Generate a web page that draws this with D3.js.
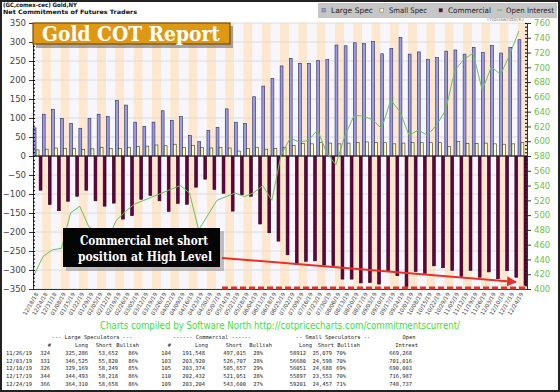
<!DOCTYPE html>
<html>
<head>
<meta charset="utf-8">
<script src="https://cdn.jsdelivr.net/npm/d3@7"></script>
<style>
  body { margin: 0; background: #fff; }
  svg { display: block; }
</style>
</head>
<body>
<svg id="chart" width="560" height="392"></svg>
<script>
const dates = [
  "12/18/18", "12/24/18", "12/31/18", "01/08/19", "01/15/19", "01/22/19", "01/29/19",
  "02/05/19", "02/12/19", "02/19/19", "02/26/19", "03/05/19", "03/12/19", "03/19/19",
  "03/26/19", "04/02/19", "04/09/19", "04/16/19", "04/23/19", "04/30/19", "05/07/19",
  "05/14/19", "05/21/19", "05/28/19", "06/04/19", "06/11/19", "06/18/19", "06/25/19",
  "07/02/19", "07/09/19", "07/16/19", "07/23/19", "07/30/19", "08/06/19", "08/13/19",
  "08/20/19", "08/27/19", "09/03/19", "09/10/19", "09/17/19", "09/24/19", "10/01/19",
  "10/08/19", "10/15/19", "10/22/19", "10/29/19", "11/05/19", "11/12/19", "11/19/19",
  "11/26/19", "12/03/19", "12/10/19", "12/17/19", "12/24/19"
];

// net positions, thousands of contracts
const largeSpec = [
  74, 110, 123, 99, 86, 73, 99, 110, 104, 146, 134, 89, 78, 89,
  119, 94, 104, 54, 38, 67, 75, 124, 89, 86, 156, 184, 204, 237,
  257, 244, 244, 251, 254, 292, 290, 298, 296, 301, 269, 283, 312, 268,
  274, 254, 259, 276, 279, 268, 286, 272, 291, 271, 286, 306
];
const smallSpec = [
  16, 18, 21, 20, 20, 17, 19, 22, 20, 20, 23, 25, 26, 29,
  27, 31, 23, 28, 23, 21, 23, 21, 13, 20, 23, 18, 20, 23,
  28, 33, 32, 36, 34, 32, 34, 36, 37, 36, 35, 32, 34, 36,
  35, 35, 35, 25, 38, 33, 33, 34, 32, 31, 32, 35
];
const commercial = [
  -90, -128, -144, -119, -106, -90, -118, -132, -124, -166, -157, -114, -104, -118,
  -146, -125, -127, -82, -61, -88, -98, -145, -102, -106, -179, -202, -224, -260,
  -285, -277, -276, -287, -288, -324, -324, -334, -333, -337, -304, -315, -346, -304,
  -309, -289, -294, -301, -317, -301, -319, -305, -323, -302, -319, -340
];
// open interest, thousands
const openInterest = [
  419, 444, 453, 455, 503, 512, 484, 477, 466, 493, 505, 515, 520, 525,
  530, 535, 540, 530, 480, 500, 520, 525, 530, 525, 530, 540, 520, 581,
  604, 599, 601, 615, 584, 568, 608, 635, 634, 629, 617, 656, 640, 608,
  615, 608, 622, 642, 696, 711, 719, 669, 701, 690, 717, 749
];

const leftTicks = d3.range(-350, 351, 50);
const rightTicks = d3.range(400, 761, 20);

const legendItems = ["Large Spec", "Small Spec", "Commercial", "Open Interest"];

const tableHead1 = [
  ["--- Large Speculators ---", 92], ["------ Commercial ------", 212],
  ["-- Small Speculators --", 333], ["Open", 409]
];
const tableHead2 = [
  ["#", 51], ["Long", 88], ["Short", 112], ["Bullish", 139], ["#", 171],
  ["Long", 208], ["Short", 242], ["Bullish", 272], ["Long", 312],
  ["Short", 334], ["Bullish", 360], ["Intrest", 418]
];
const tableRows = [
  ["11/26/19", "324", "325,286", "53,652", "86%", "104", "191,548", "497,015", "28%", "58912", "25,079", "70%", "669,268"],
  ["12/03/19", "331", "346,525", "55,820", "86%", "103", "203,920", "526,707", "28%", "56680", "24,598", "70%", "701,016"],
  ["12/10/19", "326", "329,169", "58,249", "85%", "105", "203,374", "505,657", "29%", "56051", "24,688", "69%", "690,003"],
  ["12/17/19", "344", "344,493", "58,218", "86%", "110", "202,432", "521,051", "28%", "55897", "23,553", "70%", "716,987"],
  ["12/24/19", "366", "364,310", "58,658", "86%", "109", "203,204", "543,600", "27%", "59201", "24,457", "71%", "748,737"]
];
const tableCols = [32, 50, 88, 118, 138, 171, 205, 246, 263, 306, 332, 346, 412];

const colors = {
  large: "#9b9be0", small: "#ffffb8", comm: "#66003f", oi: "#6cbf5c",
  stripeA: "#f6f6fc", stripeB: "#fde8cf"
};

const plot = { left: 33, right: 527, top: 23, bottom: 289 };

const svg = d3.select("#chart");

const x = d3.scaleBand().domain(dates).range([plot.left, plot.right]);
const sub = d3.scaleBand().domain(["large", "small", "comm"]).range([0, x.bandwidth()]).padding(0.05);
const yL = d3.scaleLinear().domain([-350, 350]).range([plot.bottom, plot.top]);
const yR = d3.scaleLinear().domain([400, 760]).range([plot.bottom, plot.top]);

// frame
svg.append("rect").attr("x", 1).attr("y", 1).attr("width", 558).attr("height", 390)
  .attr("fill", "#fff").attr("stroke", "#222").attr("stroke-width", 2);

// stripes
svg.append("g").selectAll("rect").data(dates).join("rect")
  .attr("x", d => x(d)).attr("y", plot.top)
  .attr("width", x.bandwidth()).attr("height", plot.bottom - plot.top)
  .attr("fill", (d, i) => i % 2 ? colors.stripeB : colors.stripeA);

// gridlines
svg.append("g").selectAll("line").data(leftTicks).join("line")
  .attr("x1", plot.left).attr("x2", plot.right)
  .attr("y1", d => yL(d)).attr("y2", d => yL(d))
  .attr("stroke", "#d8d8d8").attr("stroke-width", 0.8);

// bars
const bars = svg.append("g");
bars.selectAll(".large").data(largeSpec).join("rect").attr("class", "large")
  .attr("x", (d, i) => x(dates[i]) + sub("large")).attr("width", sub.bandwidth())
  .attr("y", d => yL(d)).attr("height", d => yL(0) - yL(d))
  .attr("fill", colors.large).attr("stroke", "#2a2a5a").attr("stroke-width", 0.6);
bars.selectAll(".small").data(smallSpec).join("rect").attr("class", "small")
  .attr("x", (d, i) => x(dates[i]) + sub("small")).attr("width", sub.bandwidth())
  .attr("y", d => yL(d)).attr("height", d => yL(0) - yL(d))
  .attr("fill", colors.small).attr("stroke", "#333").attr("stroke-width", 0.6);
bars.selectAll(".comm").data(commercial).join("rect").attr("class", "comm")
  .attr("x", (d, i) => x(dates[i]) + sub("comm")).attr("width", sub.bandwidth())
  .attr("y", yL(0)).attr("height", d => yL(d) - yL(0))
  .attr("fill", colors.comm).attr("stroke", "#2a0018").attr("stroke-width", 0.6);

// zero line
svg.append("line").attr("x1", plot.left).attr("x2", plot.right)
  .attr("y1", yL(0)).attr("y2", yL(0)).attr("stroke", "#222").attr("stroke-width", 1);

// open interest (points sit on the left edge of each week)
const line = d3.line().x((d, i) => x(dates[i]) + 1).y(d => yR(d));
svg.append("path").datum(openInterest).attr("d", line)
  .attr("fill", "none").attr("stroke", colors.oi).attr("stroke-width", 1);

// left axis
const leftAxis = svg.append("g").attr("transform", `translate(${plot.left},0)`)
  .call(d3.axisLeft(yL).tickValues(leftTicks).tickSize(4).tickPadding(3));
svg.append("g").attr("transform", `translate(${plot.left},0)`)
  .call(d3.axisRight(yL).tickValues(d3.range(-350, 351, 10)).tickSize(2).tickFormat(""))
  .call(g => g.select(".domain").remove());
leftAxis.selectAll("text").attr("fill", "#444").style("font", "8.5px 'DejaVu Sans'");
leftAxis.selectAll("line, path").attr("stroke", "#333");

// right axis
const rightAxis = svg.append("g").attr("transform", `translate(${plot.right},0)`)
  .call(d3.axisRight(yR).tickValues(rightTicks).tickSize(4).tickPadding(3));
svg.append("g").attr("transform", `translate(${plot.right},0)`)
  .call(d3.axisLeft(yR).tickValues(d3.range(400, 761, 5)).tickSize(2).tickFormat(""))
  .call(g => g.select(".domain").remove());
rightAxis.selectAll("text").attr("fill", "#6cbf4c").style("font", "8.5px 'DejaVu Sans'");
rightAxis.selectAll("line, path").attr("stroke", "#333");

svg.append("text").attr("x", plot.right - 3).attr("y", 21).attr("text-anchor", "end")
  .attr("fill", "#888").style("font", "5.5px 'DejaVu Sans'").text("Thousands(K)");

// x axis labels
const xAxis = svg.append("g").attr("transform", `translate(0,${plot.bottom})`)
  .call(d3.axisBottom(x).tickSize(0).tickPadding(0));
xAxis.select(".domain").attr("stroke", "#333");
xAxis.selectAll("text")
  .attr("text-anchor", "end").attr("dy", 0).attr("y", 0)
  .attr("transform", "translate(1,5) rotate(-60)")
  .attr("fill", "#444").style("font", "5.6px 'DejaVu Sans'");

// header
svg.append("text").attr("x", 3).attr("y", 7).attr("fill", "#111")
  .attr("textLength", 74).attr("lengthAdjust", "spacingAndGlyphs")
  .style("font", "bold 6px 'DejaVu Sans'").text("(GC,comex-cec) Gold,NY");
svg.append("text").attr("x", 3).attr("y", 13.5).attr("fill", "#111")
  .attr("textLength", 134).attr("lengthAdjust", "spacingAndGlyphs")
  .style("font", "bold 6px 'DejaVu Sans'").text("Net Commitments of Futures Traders");

// legend
const legend = svg.append("g");
legend.append("rect").attr("x", 318).attr("y", 3).attr("width", 239).attr("height", 15)
  .attr("fill", "#c6c6c6");
const legX = [322, 380, 439, 497];
const legW = [42, 38, 43, 48];
legendItems.forEach((name, i) => {
  if (i < 3) {
    legend.append("rect").attr("x", legX[i]).attr("y", 8.5).attr("width", 3.5).attr("height", 3.5)
      .attr("fill", [colors.large, colors.small, colors.comm][i]).attr("stroke", "#555").attr("stroke-width", 0.4);
  } else {
    legend.append("line").attr("x1", legX[i]).attr("x2", legX[i] + 5).attr("y1", 10).attr("y2", 10)
      .attr("stroke", colors.oi).attr("stroke-width", 1.2);
  }
  legend.append("text").attr("x", legX[i] + 9).attr("y", 13).attr("fill", "#222")
    .attr("textLength", legW[i]).attr("lengthAdjust", "spacingAndGlyphs")
    .style("font", "7.5px 'DejaVu Sans'").text(name);
});

// title box
const tb = svg.append("g");
tb.append("rect").attr("x", 36).attr("y", 26).attr("width", 197).attr("height", 22).attr("fill", "#555").attr("opacity", 0.5);
tb.append("rect").attr("x", 33).attr("y", 23).attr("width", 197).attr("height", 21)
  .attr("fill", "#de9814").attr("stroke", "#7a4e00").attr("stroke-width", 1.2);
tb.append("text").attr("x", 42).attr("y", 41).attr("fill", "#fff")
  .attr("textLength", 178).attr("lengthAdjust", "spacingAndGlyphs")
  .style("font", "bold 20px 'DejaVu Serif'").text("Gold COT Report");

// annotation
const an = svg.append("g");
an.append("rect").attr("x", 66).attr("y", 231).attr("width", 158).attr("height", 40).attr("fill", "#999").attr("opacity", 0.6);
an.append("rect").attr("x", 63).attr("y", 228).attr("width", 157).attr("height", 39).attr("fill", "#050505");
an.append("text").attr("x", 80).attr("y", 245).attr("fill", "#fff")
  .attr("textLength", 128).attr("lengthAdjust", "spacingAndGlyphs")
  .style("font", "bold 12px 'DejaVu Serif'").text("Commercial net short");
an.append("text").attr("x", 78).attr("y", 261).attr("fill", "#fff")
  .attr("textLength", 134).attr("lengthAdjust", "spacingAndGlyphs")
  .style("font", "bold 12px 'DejaVu Serif'").text("position at High Level");

// red arrow + dashed level
svg.append("defs").append("marker").attr("id", "ah").attr("viewBox", "0 0 10 10")
  .attr("refX", 9).attr("refY", 5).attr("markerWidth", 5).attr("markerHeight", 5)
  .attr("orient", "auto").append("path").attr("d", "M0,0L10,5L0,10z").attr("fill", "#e8302a");
svg.append("line").attr("x1", 222).attr("y1", 258).attr("x2", 516).attr("y2", 282)
  .attr("stroke", "#e8302a").attr("stroke-width", 2).attr("marker-end", "url(#ah)");
svg.append("line").attr("x1", 222).attr("x2", plot.right).attr("y1", plot.bottom - 1).attr("y2", plot.bottom - 1)
  .attr("stroke", "#e8302a").attr("stroke-width", 3).attr("stroke-dasharray", "6,3");

// credits
svg.append("text").attr("x", 100).attr("y", 329).attr("fill", "#3ce03c")
  .attr("textLength", 360).attr("lengthAdjust", "spacingAndGlyphs")
  .style("font", "10px 'DejaVu Sans'").text("Charts compiled by Software North  http://cotpricecharts.com/commitmentscurrent/");

// table
const tfont = "5.4px 'DejaVu Sans Mono'";
svg.append("g").selectAll("text").data(tableHead1).join("text")
  .attr("x", d => d[1]).attr("y", 339).attr("text-anchor", "middle")
  .attr("fill", "#222").style("font", tfont).text(d => d[0]);
svg.append("g").selectAll("text").data(tableHead2).join("text")
  .attr("x", d => d[1]).attr("y", 347).attr("text-anchor", "end")
  .attr("fill", "#222").style("font", tfont).text(d => d[0]);
tableRows.forEach((row, r) => {
  svg.append("g").selectAll("text").data(row).join("text")
    .attr("x", (d, i) => tableCols[i]).attr("y", 355 + r * 7.7).attr("text-anchor", "end")
    .attr("fill", "#222").style("font", tfont).text(d => d);
});
</script>
</body>
</html>
